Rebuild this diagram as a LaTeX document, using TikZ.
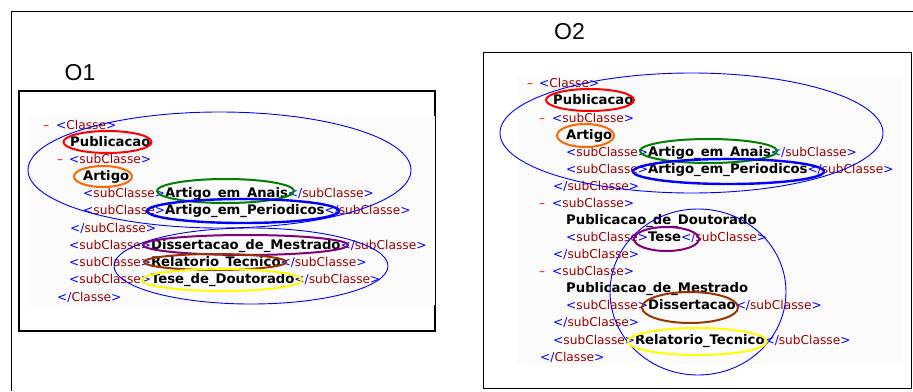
\documentclass[tikz,border=0pt]{standalone}
\usepackage{fontspec}
\setmainfont{DejaVu Sans}
\newfontfamily\labelfont{Liberation Sans}
\usetikzlibrary{shapes.geometric}

\definecolor{tagblue}{HTML}{0000FF}
\definecolor{tagname}{HTML}{990000}
\definecolor{minusred}{HTML}{FF0000}
\definecolor{ringred}{HTML}{FF0000}
\definecolor{ringorange}{HTML}{FF6600}
\definecolor{ringgreen}{HTML}{008000}
\definecolor{ringblue}{HTML}{0000FF}
\definecolor{ringpurple}{HTML}{800080}
\definecolor{ringbrown}{HTML}{993300}
\definecolor{ringyellow}{HTML}{FFFF00}
\definecolor{panebg}{HTML}{FBFBFB}

% XML tree pieces
\newcommand\otag[1]{\textcolor{tagblue}{<}\textcolor{tagname}{#1}\textcolor{tagblue}{>}}
\newcommand\ctag[1]{\textcolor{tagblue}{</}\textcolor{tagname}{#1}\textcolor{tagblue}{>}}
\newcommand\xval[1]{{\fontsize{13.2}{15}\selectfont\bfseries #1}}

\tikzset{
  xmlline/.style={anchor=base west, inner sep=0pt, yshift=-4.5pt,
                  font=\fontsize{12.2}{14}\selectfont, text=black},
  foldmark/.style={xmlline, text=minusred},
  ring/.style={draw=#1, shape=ellipse, line width=2pt, inner sep=0pt},
  group/.style={draw=ringblue, shape=ellipse, line width=0.9pt, inner sep=0pt},
  title/.style={inner sep=0pt, font=\labelfont\fontsize{23}{23}\selectfont},
}

\begin{document}
\begin{tikzpicture}[x=1pt, y=-1pt]
\useasboundingbox (0,0) rectangle (913,391);

% outer frame
\draw[line width=1pt] (913,11) -- (11,11) -- (11,391);

% ---------------- O1 ----------------
\node[title] (t1) at (80,72.5) {O1};
\draw[line width=1.3pt] (19,91) rectangle (435,331);
\fill[panebg] (27,116) rectangle (435,305);

\node[foldmark] (a0m) at (43,125) {–};
\node[xmlline]  (a0)  at (56,125) {\otag{Classe}};
\node[xmlline]  (a1)  at (70,142) {\xval{Publicacao}};
\node[foldmark] (a2m) at (57,159) {–};
\node[xmlline]  (a2)  at (69,159) {\otag{subClasse}};
\node[xmlline]  (a3)  at (83,176) {\xval{Artigo}};
\node[xmlline]  (a4)  at (83,193) {\otag{subClasse}\xval{Artigo\_em\_Anais}\ctag{subClasse}};
\node[xmlline]  (a5)  at (83,210) {\otag{subClasse}\xval{Artigo\_em\_Periodicos}\ctag{subClasse}};
\node[xmlline]  (a6)  at (70,228) {\ctag{subClasse}};
\node[xmlline]  (a7)  at (69,245) {\otag{subClasse}\xval{Dissertacao\_de\_Mestrado}\ctag{subClasse}};
\node[xmlline]  (a8)  at (69,262) {\otag{subClasse}\xval{Relatorio\_Tecnico}\ctag{subClasse}};
\node[xmlline]  (a9)  at (69,279) {\otag{subClasse}\xval{Tese\_de\_Doutorado}\ctag{subClasse}};
\node[xmlline]  (a10) at (57,297) {\ctag{Classe}};

\node[group, minimum width=383pt, minimum height=116pt] (g1top) at (219.5,170) {};
\node[group, minimum width=274pt, minimum height=76pt]  (g1bot) at (251,266) {};
\node[ring=ringred,    minimum width=88pt,  minimum height=22pt] (r1pub)  at (107.5,142) {};
\node[ring=ringorange, minimum width=58pt,  minimum height=21pt] (r1art)  at (103,176.5) {};
\node[ring=ringgreen,  minimum width=137pt, minimum height=24pt] (r1ana)  at (225.5,191) {};
\node[ring=ringblue, line width=2.4pt, minimum width=192pt, minimum height=24pt] (r1per) at (243,211) {};
\node[ring=ringpurple, minimum width=205pt, minimum height=20pt] (r1dis)  at (245.5,245) {};
\node[ring=ringbrown,  minimum width=142pt, minimum height=16pt] (r1rel)  at (215,262) {};
\node[ring=ringyellow, minimum width=160pt, minimum height=22pt] (r1tes)  at (222,280) {};

% ---------------- O2 ----------------
\node[title] (t2) at (569.5,31.5) {O2};
\draw[line width=1pt] (483,52) rectangle (911,388);
\fill[panebg] (518,76) rectangle (903,364);

\node[foldmark] (b0m)  at (527,83)  {–};
\node[xmlline]  (b0)   at (539,83)  {\otag{Classe}};
\node[xmlline]  (b1)   at (553,100) {\xval{Publicacao}};
\node[foldmark] (b2m)  at (539,118) {–};
\node[xmlline]  (b2)   at (552,118) {\otag{subClasse}};
\node[xmlline]  (b3)   at (566,135) {\xval{Artigo}};
\node[xmlline]  (b4)   at (566,152) {\otag{subClasse}\xval{Artigo\_em\_Anais}\ctag{subClasse}};
\node[xmlline]  (b5)   at (566,169) {\otag{subClasse}\xval{Artigo\_em\_Periodicos}\ctag{subClasse}};
\node[xmlline]  (b6)   at (553,186) {\ctag{subClasse}};
\node[foldmark] (b7m)  at (539,203) {–};
\node[xmlline]  (b7)   at (552,203) {\otag{subClasse}};
\node[xmlline]  (b8)   at (566,220) {\xval{Publicacao\_de\_Doutorado}};
\node[xmlline]  (b9)   at (566,237) {\otag{subClasse}\xval{Tese}\ctag{subClasse}};
\node[xmlline]  (b10)  at (553,254) {\ctag{subClasse}};
\node[foldmark] (b11m) at (539,271) {–};
\node[xmlline]  (b11)  at (552,271) {\otag{subClasse}};
\node[xmlline]  (b12)  at (566,288) {\xval{Publicacao\_de\_Mestrado}};
\node[xmlline]  (b13)  at (566,305) {\otag{subClasse}\xval{Dissertacao}\ctag{subClasse}};
\node[xmlline]  (b14)  at (553,322) {\ctag{subClasse}};
\node[xmlline]  (b15)  at (553,340) {\otag{subClasse}\xval{Relatorio\_Tecnico}\ctag{subClasse}};
\node[xmlline]  (b16)  at (540,357) {\ctag{Classe}};

\node[group, minimum width=383pt, minimum height=120pt] (g2top) at (691.5,133) {};
\node[group, minimum width=176pt, minimum height=166pt] (g2bot) at (698,292) {};
\node[ring=ringred,    minimum width=88pt,  minimum height=22pt] (r2pub) at (590,100) {};
\node[ring=ringorange, minimum width=57pt,  minimum height=23pt] (r2art) at (585.5,135.5) {};
\node[ring=ringgreen,  minimum width=137pt, minimum height=24pt] (r2ana) at (708.5,151) {};
\node[ring=ringblue, line width=2.4pt, minimum width=191pt, minimum height=25pt] (r2per) at (728.5,171.5) {};
\node[ring=ringpurple, minimum width=65pt,  minimum height=24pt] (r2tes) at (666.5,239) {};
\node[ring=ringbrown,  minimum width=96pt,  minimum height=31pt] (r2dis) at (690,307.5) {};
\node[ring=ringyellow, minimum width=139pt, minimum height=27pt] (r2rel) at (697.5,341.5) {};
\end{tikzpicture}
\end{document}
